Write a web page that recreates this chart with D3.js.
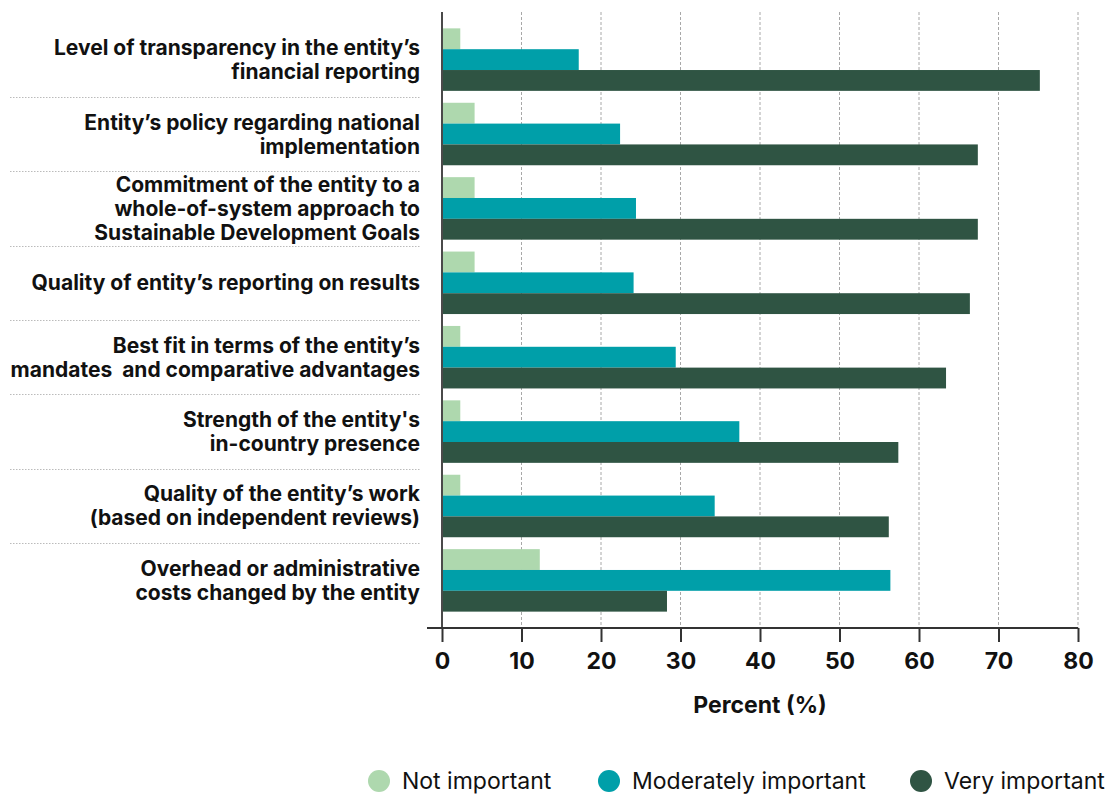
<!DOCTYPE html>
<html>
<head>
<meta charset="utf-8">
<script src="https://cdn.jsdelivr.net/npm/d3@7"></script>
<style>
  html, body { margin: 0; padding: 0; background: #fff; }
  svg { display: block; font-family: Inter, "Noto Sans", sans-serif; }
</style>
</head>
<body>
<svg id="chart" width="1110" height="795"></svg>
<script>
const categories = [
  ["Level of transparency in the entity\u2019s", "financial reporting"],
  ["Entity\u2019s policy regarding national", "implementation"],
  ["Commitment of the entity to a", "whole-of-system approach to", "Sustainable Development Goals"],
  ["Quality of entity\u2019s reporting on results"],
  ["Best fit in terms of the entity\u2019s", "mandates  and comparative advantages"],
  ["Strength of the entity's", "in-country presence"],
  ["Quality of the entity\u2019s work", "(based on independent reviews)"],
  ["Overhead or administrative", "costs changed by the entity"]
];
const seriesNames = ["Not important", "Moderately important", "Very important"];
const notImportant = [2.3, 4.1, 4.1, 4.1, 2.3, 2.3, 2.3, 12.3];
const moderatelyImportant = [17.2, 22.4, 24.4, 24.1, 29.4, 37.4, 34.3, 56.4];
const veryImportant = [75.2, 67.4, 67.4, 66.4, 63.4, 57.4, 56.2, 28.3];
const xTicks = [0, 10, 20, 30, 40, 50, 60, 70, 80];
const colors = ["#aed8ae", "#009fa9", "#2f5443"];

const series = [notImportant, moderatelyImportant, veryImportant];
const svg = d3.select("#chart");

const x = d3.scaleLinear().domain([0, 80]).range([442, 1078]);
const y = d3.scaleBand().domain(d3.range(categories.length)).range([12, 628])
  .paddingInner(0.16).paddingOuter(0.22);
const ySub = d3.scaleBand().domain(d3.range(3)).range([0, y.bandwidth()]);

// gridlines
svg.append("g").selectAll("line").data(xTicks.slice(1)).join("line")
  .attr("x1", d => x(d)).attr("x2", d => x(d))
  .attr("y1", 12).attr("y2", 628)
  .attr("stroke", "#a8a8a8").attr("stroke-width", 1).attr("stroke-dasharray", "3,2");

// separators
const seps = d3.range(1, categories.length);
svg.append("g").selectAll("line").data(seps).join("line")
  .attr("x1", 10).attr("x2", 420)
  .attr("y1", d => Math.round(y(d) - y.step() * y.paddingInner() / 2) + 0.5)
  .attr("y2", d => Math.round(y(d) - y.step() * y.paddingInner() / 2) + 0.5)
  .attr("stroke", "#bbb").attr("stroke-width", 1).attr("stroke-dasharray", "1.5,1.5");

// bars
const g = svg.append("g");
series.forEach((vals, si) => {
  g.append("g").selectAll("rect").data(vals).join("rect")
    .attr("x", x(0))
    .attr("y", (d, i) => y(i) + ySub(si))
    .attr("width", d => x(d) - x(0))
    .attr("height", ySub.bandwidth())
    .attr("fill", colors[si]);
});

// left axis line
svg.append("line").attr("x1", 442).attr("x2", 442).attr("y1", 12).attr("y2", 628)
  .attr("stroke", "#4a4a4a").attr("stroke-width", 2);

// bottom axis
const xAxis = d3.axisBottom(x).tickValues(xTicks).tickSize(14).tickPadding(11).tickSizeOuter(0);
const ax = svg.append("g").attr("transform", "translate(0,628)").call(xAxis);
ax.select(".domain").remove();
ax.append("line").attr("x1", 427).attr("x2", 1078).attr("y1", 0).attr("y2", 0)
  .attr("stroke", "#333").attr("stroke-width", 2);
ax.selectAll(".tick line").attr("stroke", "#333").attr("stroke-width", 2);
ax.selectAll(".tick text").attr("fill", "#111").attr("font-size", 23).attr("font-weight", 700)
  .attr("font-family", "Inter, sans-serif");

svg.append("text").attr("x", 760).attr("y", 713).attr("text-anchor", "middle")
  .attr("font-size", 23).attr("font-weight", 700).attr("fill", "#111").text("Percent (%)");

// category labels
const lh = 24;
const lab = svg.append("g");
categories.forEach((lines, i) => {
  const cy = y(i) + y.bandwidth() / 2;
  const t = lab.append("text").attr("text-anchor", "end")
    .attr("font-size", 21).attr("font-weight", 700).attr("fill", "#111");
  lines.forEach((ln, j) => {
    t.append("tspan").attr("x", 420)
      .attr("y", cy + (j - (lines.length - 1) / 2) * lh + 7.5)
      .attr("xml:space", "preserve")
      .text(ln);
  });
});

// legend
const legendX = [379, 609, 921];
const leg = svg.append("g");
seriesNames.forEach((name, i) => {
  leg.append("circle").attr("cx", legendX[i]).attr("cy", 781).attr("r", 11).attr("fill", colors[i]);
  leg.append("text").attr("x", legendX[i] + 23).attr("y", 789).attr("font-size", 23)
    .attr("fill", "#111").text(name);
});
</script>
</body>
</html>
